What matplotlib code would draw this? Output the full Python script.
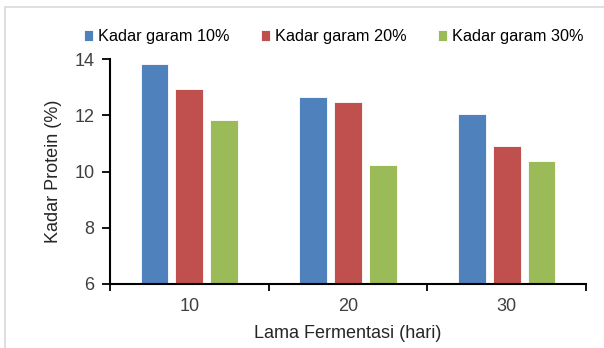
import matplotlib.pyplot as plt
from matplotlib.patches import Rectangle
import numpy as np

# data
days = ['10', '20', '30']
series = ['Kadar garam 10%', 'Kadar garam 20%', 'Kadar garam 30%']
garam_10 = [13.82, 12.66, 12.06]
garam_20 = [12.93, 12.48, 10.91]
garam_30 = [11.82, 10.23, 10.38]
colors = ['#4F81BD', '#C0504D', '#9BBB59']

plt.rcParams['font.family'] = ['Liberation Sans', 'DejaVu Sans']

fig = plt.figure(figsize=(6.04, 3.48), dpi=100)
ax = fig.add_axes([110 / 604, 1 - 284 / 348, 476 / 604, 225 / 348])

# light grey frame around the figure
fig.patches.append(Rectangle((5 / 604, -0.05), 1.2, 1 - 7 / 348 + 0.05,
                             transform=fig.transFigure, fill=False,
                             ec='#d9d9d9', lw=1.2))

x = np.arange(len(days))
step = 0.22
width = 0.175
for i, (vals, lab) in enumerate(zip([garam_10, garam_20, garam_30], series)):
    ax.bar(x + (i - 1) * step, [v - 6 for v in vals], width, bottom=6,
           color=colors[i], edgecolor='white', linewidth=0.6, label=lab)

ax.set_xlim(-0.5, 2.5)
ax.set_ylim(6, 14)
ax.set_yticks([6, 8, 10, 12, 14])
ax.set_xticks(x)
ax.set_xticklabels(days)
ax.set_xticks([-0.5, 0.5, 1.5, 2.5], minor=True)
ax.tick_params(axis='x', which='major', length=0, labelsize=13, pad=10, labelcolor='#404040')
ax.tick_params(axis='x', which='minor', length=5, width=1.3, direction='out', color='black')
ax.tick_params(axis='y', length=6, width=1.3, direction='out', labelsize=13,
               labelcolor='#404040', color='black', pad=5)

for s in ['top', 'right']:
    ax.spines[s].set_visible(False)
for s in ['left', 'bottom']:
    ax.spines[s].set_linewidth(1.5)

ax.set_ylabel('Kadar Protein (%)', fontsize=13, color='#262626', labelpad=9)
ax.set_xlabel('Lama Fermentasi (hari)', fontsize=13, color='#262626', labelpad=7)

ax.legend(loc='lower center', bbox_to_anchor=(0.47, 1.065), ncol=3, frameon=False,
          fontsize=11.7, handlelength=0.6, handleheight=0.6, handletextpad=0.3,
          columnspacing=1.9, borderaxespad=0, borderpad=0)

fig.savefig('out.png', dpi=100)
